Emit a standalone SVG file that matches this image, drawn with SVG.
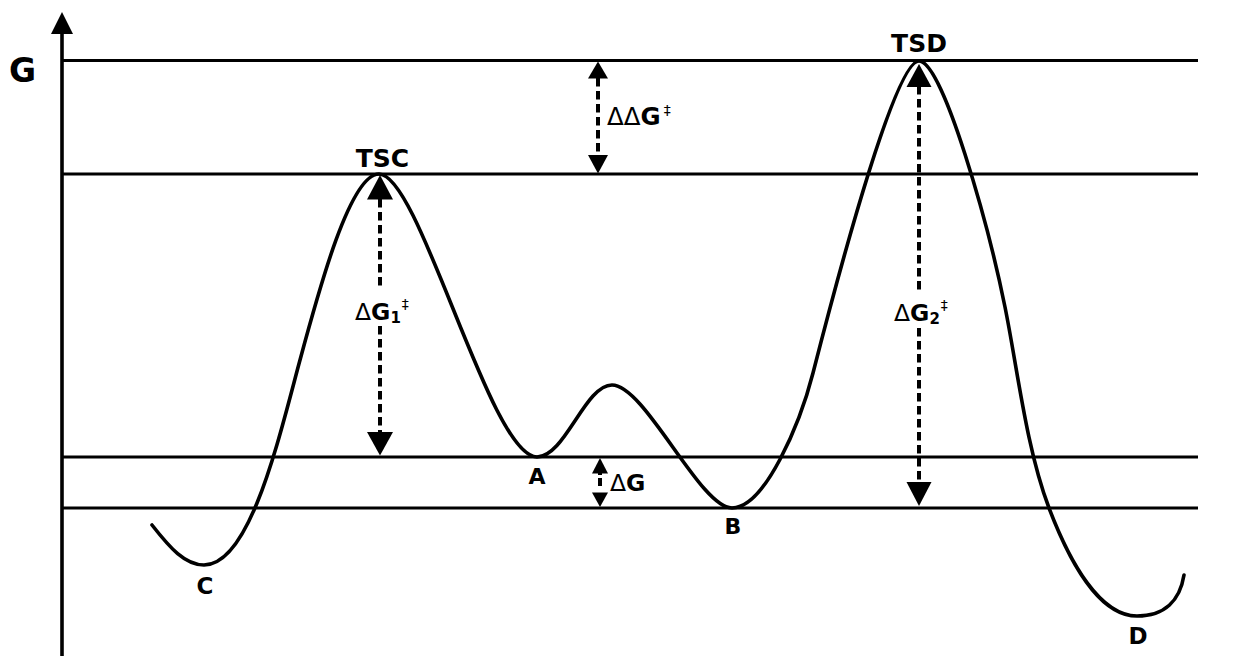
<svg xmlns="http://www.w3.org/2000/svg" width="1247" height="656" viewBox="0 0 1247 656">
<style>
.bg{fill:#fff}
.lvl{stroke:#000;stroke-width:3.2;fill:none}
.axis{stroke:#000;stroke-width:3.6;fill:none}
.curve{stroke:#000;stroke-width:3.6;fill:none;stroke-linejoin:round;stroke-linecap:round}
.dash{stroke:#000;stroke-width:4;fill:none;stroke-dasharray:8.5 4.5}
.head{fill:#000}
.lbl{font-family:"DejaVu Sans",Verdana,sans-serif;font-weight:bold;fill:#000}
.dl{font-family:"DejaVu Sans",sans-serif;font-weight:normal}
</style>
<rect class="bg" x="0" y="0" width="1247" height="656"/>
<g id="axis">
<line class="axis" x1="62" y1="30" x2="62" y2="656"/>
<polygon class="head" points="62,12 51,34 73,34"/>
<text class="lbl" x="9" y="82" font-size="33">G</text>
</g>
<g id="levels">
<line class="lvl" x1="62" y1="60.5" x2="1198" y2="60.5"/>
<line class="lvl" x1="62" y1="174" x2="1198" y2="174"/>
<line class="lvl" x1="62" y1="457" x2="1198" y2="457"/>
<line class="lvl" x1="62" y1="508" x2="1198" y2="508"/>
</g>
<g id="energy-curve">
<path class="curve" d="M152,525 C170,548 185,565 204,565 C250,565 278.4,440 300,360 C318.9,290 350,174 379,174 C420,174 490,457 537,457 C565,457 585,385 612,385 C645,385 700,508 732,508 C765,508 800.2,423 813,373 C838.6,273 895,61 919,61 C943,61 988.8,227 1005,307 C1017.2,367 1026.2,448 1049,508 C1070,563 1100,616 1137,616 C1165,616 1180,600 1184,575"/>
</g>
<g id="TSC"><text class="lbl" x="382.5" y="167" font-size="25" text-anchor="middle">TSC</text></g>
<g id="TSD"><text class="lbl" x="919" y="51.5" font-size="25" text-anchor="middle">TSD</text></g>
<g id="A"><text class="lbl" x="537" y="484" font-size="22" text-anchor="middle">A</text></g>
<g id="B"><text class="lbl" x="733" y="534" font-size="22" text-anchor="middle">B</text></g>
<g id="C"><text class="lbl" x="205" y="594" font-size="23" text-anchor="middle">C</text></g>
<g id="D"><text class="lbl" x="1138" y="644" font-size="23" text-anchor="middle">D</text></g>
<g id="connectors">
<line class="dash" x1="598" y1="78" x2="598" y2="156"/>
<polygon class="head" points="598,61.5 588,78.5 608,78.5"/>
<polygon class="head" points="598,173.5 588,155 608,155"/>
<line class="dash" x1="380" y1="199" x2="380" y2="288"/>
<line class="dash" x1="380" y1="326" x2="380" y2="433"/>
<polygon class="head" points="380,175 367,199.5 393,199.5"/>
<polygon class="head" points="380,455.5 367,432 393,432"/>
<line class="dash" x1="919" y1="86" x2="919" y2="293"/>
<line class="dash" x1="919" y1="328" x2="919" y2="483"/>
<polygon class="head" points="919,64 906.5,87 931.5,87"/>
<polygon class="head" points="919,506 906.5,482 931.5,482"/>
<line class="dash" x1="600" y1="472" x2="600" y2="494" style="stroke-dasharray:3 3 8 30"/>
<polygon class="head" points="600,458 592,473.5 608,473.5"/>
<polygon class="head" points="600,507 592,492.5 608,492.5"/>
</g>
<g id="ddG-label"><text class="lbl" x="607" y="124.5" font-size="24.5"><tspan class="dl">ΔΔ</tspan>G<tspan font-size="14" dx="3" dy="-10" class="dl">‡</tspan></text></g>
<g id="dG1-label"><text class="lbl" x="355" y="319.5" font-size="23.5"><tspan class="dl">Δ</tspan>G<tspan font-size="15" dy="3">1</tspan><tspan font-size="14" class="dl" dx="1" dy="-14">‡</tspan></text></g>
<g id="dG2-label"><text class="lbl" x="894" y="320.5" font-size="23.5"><tspan class="dl">Δ</tspan>G<tspan font-size="15" dy="3">2</tspan><tspan font-size="14" class="dl" dx="1" dy="-14">‡</tspan></text></g>
<g id="dG-label"><text class="lbl" x="610" y="490.5" font-size="23.5"><tspan class="dl">Δ</tspan>G</text></g>
</svg>
